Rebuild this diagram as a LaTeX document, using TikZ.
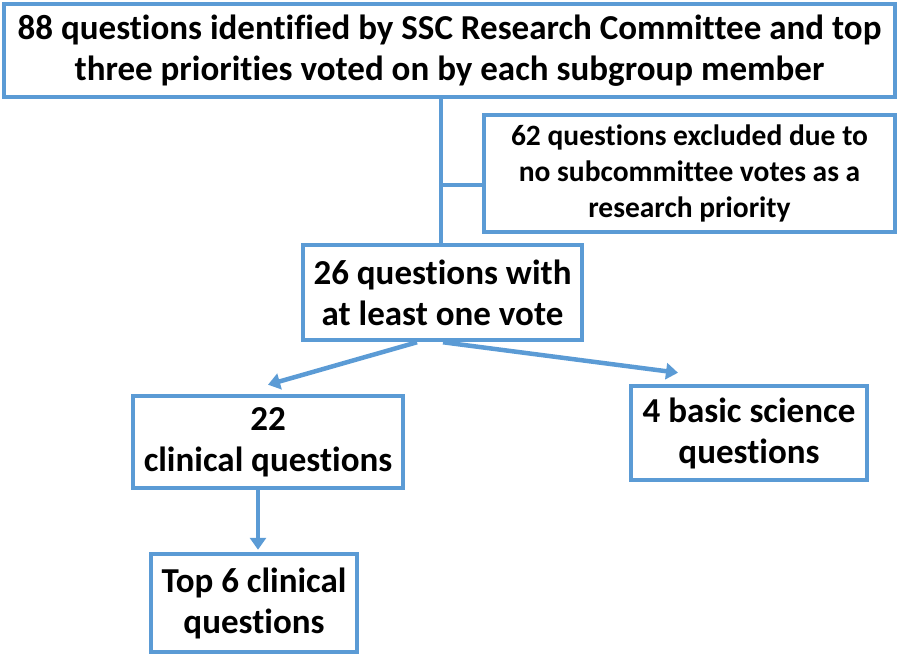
\documentclass[tikz,border=0pt]{standalone}
\usepackage{fontspec}
\setmainfont{Carlito}[Ligatures=NoCommon]
\usepackage{xcolor}
\usepackage{tikz}
\usetikzlibrary{arrows.meta, positioning}
\definecolor{FlowBlue}{RGB}{91, 155, 213}

\begin{document}
\begin{tikzpicture}[
    x=1pt, y=-1pt,
    box/.style={rectangle, draw=FlowBlue, line width=4.5pt, fill=white, inner sep=0pt, align=center, font=\fontsize{35}{41}\selectfont\bfseries},
    smallbox/.style={box, font=\fontsize{29.5}{36}\selectfont\bfseries},
    link/.style={draw=FlowBlue, line width=4.5pt},
    arrow/.style={link, -{Triangle[width=16pt, length=12pt]}}
]
    \useasboundingbox (0,0) rectangle (901,655);
    \node[box, minimum width=891pt, minimum height=93pt] (pool) at (449.5, 50.5) {88 questions identified by SSC Research Committee and top\\three priorities voted on by each subgroup member};
    \node[smallbox, minimum width=411pt, minimum height=117pt] (excl) at (689.5, 173.5) {62 questions excluded due to\\no subcommittee votes as a\\research priority};
    \node[box, minimum width=279pt, minimum height=95pt] (voted) at (442.5, 292.5) {26 questions with\\ at least one vote};
    % Second level: clinical vs basic science
    \node[box, minimum width=270pt, minimum height=92pt] (clin) at (268, 442) {22\\clinical questions};
    \node[box, minimum width=236pt, minimum height=94pt] (basic) at (749, 433) {4 basic science\\questions};
    \node[box, minimum width=206pt, minimum height=98pt] (top6) at (254, 603) {Top 6 clinical\\questions};
    \coordinate (tee) at (441, 185);
    \draw[link] (pool.south -| tee) -- (voted.north -| tee);
    \draw[link] (tee) -- (tee -| excl.west);
    \draw[arrow] ([xshift=-25.5pt]voted.south) -- ([yshift=9pt]clin.north);
    \draw[arrow] ([xshift=0.5pt]voted.south) -- ([xshift=-71pt, yshift=11pt]basic.north);
    \draw[arrow] ([xshift=4pt]clin.south -| top6.north) -- ([xshift=4pt, yshift=2pt]top6.north);
\end{tikzpicture}
\end{document}
